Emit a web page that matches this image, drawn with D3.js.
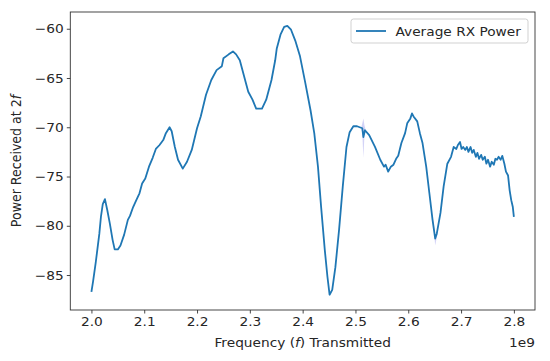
<!DOCTYPE html>
<html><head><meta charset="utf-8">
<script src="https://cdn.jsdelivr.net/npm/d3@7"></script>
<style>body{margin:0;background:#fff}svg{display:block}text{font-family:"DejaVu Sans",sans-serif;fill:#262626}</style>
</head><body>
<svg id="c" width="550" height="361"></svg>
<script>
// Frequency in GHz (axis shows offset 1e9)
const freq = [2.000,2.003,2.008,2.015,2.018,2.0215,2.0256,2.030,2.035,2.040,
2.044,2.050,2.055,2.062,2.069,2.073,2.079,2.085,2.091,2.096,
2.102,2.109,2.116,2.122,2.129,2.136,2.141,2.148,2.152,2.158,
2.164,2.173,2.181,2.190,2.200,2.207,2.217,2.227,2.237,2.247,
2.250,2.260,2.268,2.274,2.281,2.291,2.297,2.305,2.312,2.323,
2.331,2.341,2.348,2.351,2.358,2.365,2.371,2.378,2.386,2.395,
2.405,2.415,2.422,2.429,2.435,2.442,2.447,2.451,2.456,2.462,
2.469,2.476,2.483,2.489,2.496,2.503,2.508,2.513,2.515,2.518,
2.526,2.537,2.547,2.554,2.557,2.562,2.567,2.572,2.577,2.581,
2.587,2.594,2.598,2.604,2.607,2.610,2.617,2.622,2.627,2.634,
2.640,2.646,2.651,2.654,2.661,2.667,2.674,2.681,2.686,2.691,
2.694,2.698,2.701,2.704,2.708,2.711,2.714,2.718,2.721,2.724,
2.728,2.731,2.734,2.738,2.741,2.745,2.748,2.751,2.755,2.758,
2.762,2.765,2.768,2.771,2.775,2.778,2.782,2.785,2.789,2.792,
2.795,2.798,2.800];
const power = [-86.7,-85.7,-83.8,-80.8,-79.1,-77.8,-77.3,-78.4,-79.8,-81.4,
-82.4,-82.4,-82.0,-80.9,-79.4,-79.0,-78.1,-77.4,-76.7,-75.7,
-75.2,-74.0,-73.1,-72.2,-71.8,-71.3,-70.6,-70.0,-70.4,-72.0,
-73.3,-74.2,-73.5,-72.3,-70.1,-68.9,-66.7,-65.2,-64.2,-63.8,
-63.0,-62.6,-62.3,-62.6,-63.2,-65.2,-66.4,-67.2,-68.1,-68.1,
-67.2,-65.2,-63.2,-62.0,-60.6,-59.8,-59.7,-60.1,-61.2,-62.8,
-65.5,-68.3,-70.6,-74.0,-78.1,-82.5,-85.2,-87.0,-86.5,-84.2,
-80.4,-76.0,-72.0,-70.5,-69.9,-69.9,-70.0,-70.1,-71.0,-70.3,
-70.8,-72.0,-73.3,-74.0,-73.8,-74.5,-74.0,-73.8,-73.2,-72.9,
-71.6,-70.6,-69.6,-69.1,-68.6,-68.9,-69.4,-70.6,-71.6,-74.0,
-76.7,-79.4,-81.3,-80.8,-78.7,-76.0,-73.7,-73.0,-72.0,-72.2,
-71.8,-71.5,-72.2,-72.0,-72.3,-72.0,-72.5,-72.0,-72.6,-72.3,
-73.0,-72.6,-73.2,-72.8,-73.3,-73.0,-73.7,-73.3,-74.0,-73.5,
-73.8,-73.2,-73.3,-73.0,-73.3,-72.9,-73.7,-74.5,-74.9,-76.4,
-77.4,-78.1,-79.1];
// Confidence band (visible only where spread is notable)
const bandFreq = [2.511,2.513,2.515,2.517,2.519];
const bandLow  = [-70.1,-70.6,-73.1,-70.8,-70.4];
const bandHigh = [-70.0,-69.6,-69.1,-69.8,-70.2];
const bandFreq2 = [2.647,2.651,2.655];
const bandLow2  = [-79.6,-82.0,-80.9];
const bandHigh2 = [-79.3,-80.9,-80.6];
const xTicks = [2.0,2.1,2.2,2.3,2.4,2.5,2.6,2.7,2.8];
const yTicks = [-85,-80,-75,-70,-65,-60];
const seriesName = "Average RX Power";

const svg = d3.select("#c");
const L=70.3,R=535,T=12,B=310;
const FS = "12.6px", SX = 1.09;
const x = d3.scaleLinear().domain([1.96,2.84]).range([L,R]);
const y = d3.scaleLinear().domain([-88.55,-58.3]).range([B,T]);

const area = d3.area().x(d=>x(d[0])).y0(d=>y(d[1])).y1(d=>y(d[2]));
[[bandFreq,bandLow,bandHigh],[bandFreq2,bandLow2,bandHigh2]].forEach(([f,lo,hi])=>{
  svg.append("path").attr("d",area(f.map((v,i)=>[v,lo[i],hi[i]])))
    .attr("fill","rgb(110,110,230)").attr("fill-opacity",0.3).attr("stroke","none");
});

const line = d3.line().x(d=>x(d[0])).y(d=>y(d[1]));
svg.append("path").attr("d",line(freq.map((f,i)=>[f,power[i]])))
  .attr("fill","none").attr("stroke","#1f77b4").attr("stroke-width",1.8)
  .attr("stroke-linejoin","round");

// axes
const xa = svg.append("g").attr("transform",`translate(0,${B})`)
  .call(d3.axisBottom(x).tickValues(xTicks).tickFormat(d3.format(".1f")).tickSize(3.5).tickPadding(4));
const ya = svg.append("g").attr("transform",`translate(${L},0)`)
  .call(d3.axisLeft(y).tickValues(yTicks).tickFormat(d3.format("d")).tickSize(3.5).tickPadding(2.6));
[xa,ya].forEach(g=>{
  g.select(".domain").remove();
  g.selectAll("line").attr("stroke","#333").attr("stroke-width",0.9);
  g.selectAll("text").style("font-size",FS).style("font-family","DejaVu Sans")
    .attr("fill","#262626").attr("transform",`scale(${SX},1)`);
});
svg.append("rect").attr("x",L).attr("y",T).attr("width",R-L).attr("height",B-T)
  .attr("fill","none").attr("stroke","#333").attr("stroke-width",0.9);

// labels
const xl = svg.append("text").attr("transform",`translate(${(L+R)/2},347) scale(${SX},1)`)
  .attr("text-anchor","middle").style("font-size",FS);
xl.append("tspan").text("Frequency (");
xl.append("tspan").attr("font-style","italic").text("f");
xl.append("tspan").text(") Transmitted");
svg.append("text").attr("transform",`translate(${R},347) scale(${SX},1)`)
  .attr("text-anchor","end").style("font-size",FS).text("1e9");
const yl = svg.append("text").attr("transform",`translate(21,${(T+B)/2}) scale(${SX},1) rotate(-90)`)
  .attr("text-anchor","middle").style("font-size",FS);
yl.append("tspan").text("Power Received at 2");
yl.append("tspan").attr("font-style","italic").text("f");

// legend
const lg = svg.append("g");
lg.append("rect").attr("x",351).attr("y",19).attr("width",177).attr("height",24).attr("rx",2.5)
  .attr("fill","#fff").attr("fill-opacity",0.8).attr("stroke","#ccc").attr("stroke-width",0.9);
lg.append("line").attr("x1",356).attr("x2",386).attr("y1",31).attr("y2",31)
  .attr("stroke","#1f77b4").attr("stroke-width",1.8);
lg.append("text").attr("transform",`translate(395.5,35.5) scale(${SX},1)`)
  .style("font-size",FS).text(seriesName);
</script>
</body></html>
